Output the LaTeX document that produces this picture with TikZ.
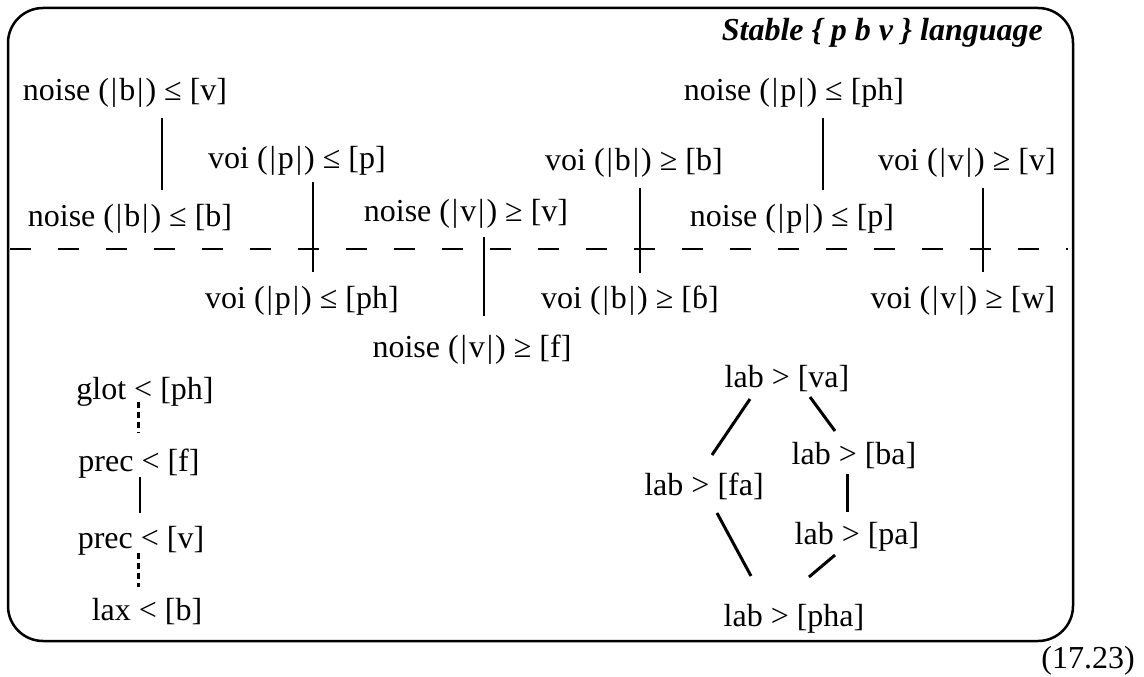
\documentclass[tikz,border=0pt]{standalone}
\usepackage{fontspec}
\setmainfont{Liberation Serif}
\usetikzlibrary{calc}
\newcommand\vbr{\hspace{0.06em}|\hspace{0.06em}}
\begin{document}
\begin{tikzpicture}[x=1pt,y=1pt,
  lbl/.style={inner sep=0pt, text height=24pt, text depth=8pt, font=\fontsize{32}{38}\selectfont},
  ttl/.style={lbl, font=\fontsize{32}{38}\selectfont\bfseries\itshape},
  link/.style={line width=2.4pt},
  heavy/.style={line width=3pt},
  dotlink/.style={line width=3pt, dash pattern=on 5.5pt off 4.5pt},
  frame/.style={line width=2.5pt, rounded corners=35pt},
  divider/.style={line width=2.3pt, dash pattern=on 21pt off 27pt}]
\useasboundingbox (0,0) rectangle (1144,-677);
\draw[frame] (8,-8) rectangle (1073,-641);
\node[ttl, anchor=east] (title) at (1043,-33) {Stable \{ p b v \} language};
\draw[divider] (10,-249) -- (1068,-249);

% upper constraints
\node[lbl] (N1) at (125,-93) {noise (\vbr b\vbr) ≤ [v]};
\node[lbl] (N2) at (130,-218) {noise (\vbr b\vbr) ≤ [b]};
\node[lbl] (N3) at (297,-160) {voi (\vbr p\vbr) ≤ [p]};
\node[lbl] (N4) at (302,-300) {voi (\vbr p\vbr) ≤ [ph]};
\node[lbl] (N5) at (466,-213) {noise (\vbr v\vbr) ≥ [v]};
\node[lbl] (N6) at (472,-349) {noise (\vbr v\vbr) ≥ [f]};
\node[lbl] (N7) at (634,-162) {voi (\vbr b\vbr) ≥ [b]};
\node[lbl] (N8) at (630,-300) {voi (\vbr b\vbr) ≥ [ɓ]};
\node[lbl] (N9) at (794,-93) {noise (\vbr p\vbr) ≤ [ph]};
\node[lbl] (N10) at (792,-218) {noise (\vbr p\vbr) ≤ [p]};
\node[lbl] (N11) at (967,-162) {voi (\vbr v\vbr) ≥ [v]};
\node[lbl] (N12) at (963,-300) {voi (\vbr v\vbr) ≥ [w]};

\draw[link] ($(N1)+(37,-25)$) -- ($(N2)+(32,28)$);
\draw[link] ($(N3)+(16,-22)$) -- ($(N4)+(11,28)$);
\draw[link] ($(N5)+(18,-24)$) -- ($(N6)+(12,33)$);
\draw[link] ($(N7)+(6,-26)$) -- ($(N8)+(10,27)$);
\draw[link] ($(N9)+(29,-25)$) -- ($(N10)+(31,28)$);
\draw[link] ($(N11)+(16,-26)$) -- ($(N12)+(20,28)$);

% lower left chain
\node[lbl] (L1) at (145,-391) {glot < [ph]};
\node[lbl] (L2) at (139,-463) {prec < [f]};
\node[lbl] (L3) at (141,-540) {prec < [v]};
\node[lbl] (L4) at (147,-612) {lax < [b]};
\draw[dotlink] ($(L1)+(-7,-11)$) -- ($(L2)+(-1,30)$);
\draw[link] ($(L2)+(1,-14)$) -- ($(L3)+(-1,27)$);
\draw[dotlink] ($(L3)+(-3,-13)$) -- ($(L4)+(-9,25)$);

% lower right lattice
\node[lbl] (va) at (787,-379) {lab > [va]};
\node[lbl] (ba) at (854,-456) {lab > [ba]};
\node[lbl] (fa) at (704,-487) {lab > [fa]};
\node[lbl] (pa) at (857,-536) {lab > [pa]};
\node[lbl] (pha) at (794,-618) {lab > [pha]};
\draw[heavy] ($(va)+(-37,-20)$) -- ($(fa)+(8,32)$);
\draw[heavy] ($(va)+(23,-18)$) -- ($(ba)+(-19,25)$);
\draw[heavy] ($(ba)+(-7,-18)$) -- ($(pa)+(-10,24)$);
\draw[heavy] ($(fa)+(13,-26)$) -- ($(pha)+(-43,42)$);
\draw[heavy] ($(pa)+(-22,-19)$) -- ($(pha)+(15,41)$);

\node[lbl] (eqno) at (1088,-660) {(17.23)};
\end{tikzpicture}
\end{document}
